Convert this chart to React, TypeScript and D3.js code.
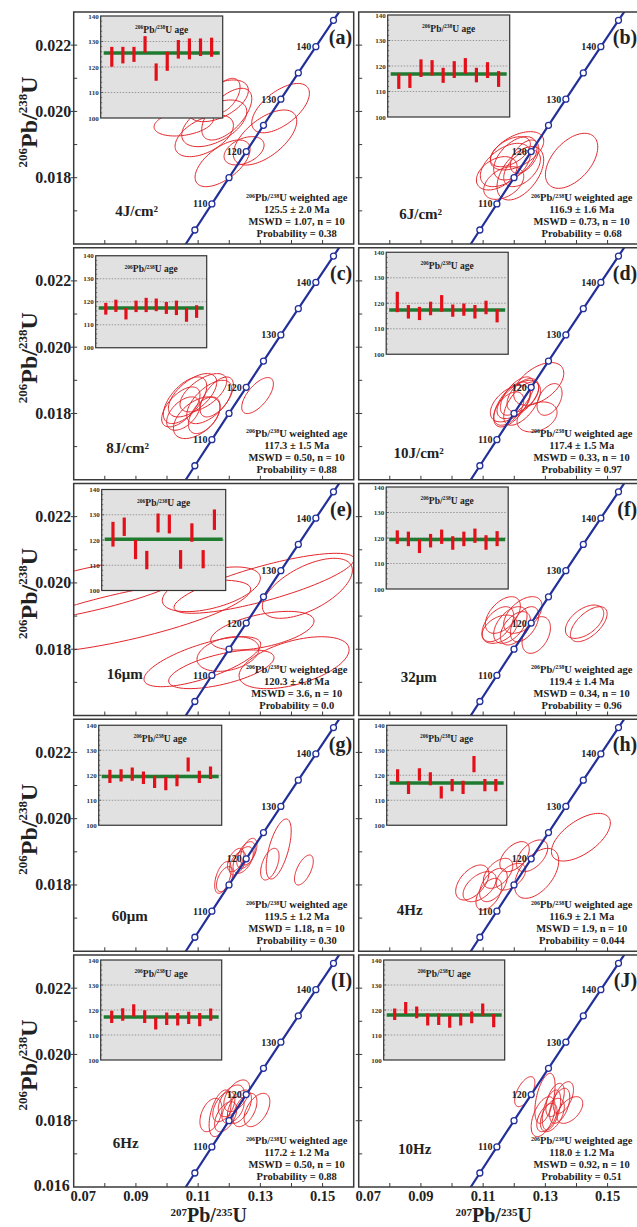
import React, { useRef, useEffect } from 'react';
import * as d3 from 'd3';

// concordia reference points: age (Ma), 207Pb/235U, 206Pb/238U
const concAges = [100, 105, 110, 115, 120, 125, 130, 135, 140, 145, 150];
const conc207 = [0.103498, 0.108945, 0.114419, 0.119921, 0.125449, 0.131005, 0.136588, 0.142198, 0.147837, 0.153503, 0.159197];
const conc206 = [0.015633, 0.016422, 0.017210, 0.018000, 0.018789, 0.019580, 0.020371, 0.021163, 0.021955, 0.022748, 0.023542];
const concLabelled = [110, 120, 130, 140];

const xTicks = [0.07, 0.09, 0.11, 0.13, 0.15];
const yTicks = ['0.022', '0.020', '0.018'];
const insetTicks = [100, 110, 120, 130, 140];

const panelIds = ['(a)', '(b)', '(c)', '(d)', '(e)', '(f)', '(g)', '(h)', '(I)', '(J)'];
const sampleNames = ['4J/cm²', '6J/cm²', '8J/cm²', '10J/cm²', '16μm', '32μm', '60μm', '4Hz', '6Hz', '10Hz'];
const meanAge = [125.5, 116.9, 117.3, 117.4, 120.3, 119.4, 119.5, 116.9, 117.2, 118.0];
const meanErr = ['2.0', '1.6', '1.5', '1.5', '4.8', '1.4', '1.2', '2.1', '1.2', '1.2'];
const mswd = ['1.07', '0.73', '0.50', '0.33', '3.6', '0.34', '1.18', '1.9', '0.50', '0.92'];
const prob = ['0.38', '0.68', '0.88', '0.97', '0.0', '0.96', '0.30', '0.044', '0.88', '0.51'];

// spot ages [age, 2σ] per panel
const agesA = [[124.0, 3.9], [124.65, 3.25], [124.95, 2.95], [128.9, 3.2], [118.0, 3.4], [122.25, 3.75], [126.95, 3.65], [127.1, 4.1], [127.75, 3.45], [127.75, 3.75]];
const agesB = [[114.0, 3.0], [114.2, 2.8], [119.15, 3.45], [119.3, 3.0], [116.35, 2.95], [118.6, 3.3], [120.05, 3.05], [116.45, 2.85], [118.4, 3.1], [114.9, 3.1]];
const agesC = [[116.95, 2.55], [118.25, 2.65], [114.8, 2.5], [118.0, 2.5], [118.6, 3.1], [118.65, 2.75], [117.3, 2.6], [117.35, 3.15], [114.3, 3.0], [115.75, 2.75]];
const agesD = [[120.5, 4.0], [116.65, 2.65], [116.0, 2.6], [117.95, 2.65], [119.95, 3.25], [117.1, 2.4], [117.5, 2.4], [116.65, 2.65], [118.35, 2.65], [115.1, 2.6]];
const agesE = [[122.3, 4.9], [125.25, 3.65], [116.2, 3.8], [112.05, 3.65], [126.75, 3.75], [126.35, 3.75], [112.3, 3.7], [122.95, 3.65], [112.4, 3.6], [128.05, 4.05]];
const agesF = [[120.35, 2.65], [119.65, 2.85], [116.75, 2.65], [118.95, 2.65], [120.5, 2.8], [118.05, 2.65], [119.65, 2.85], [120.9, 2.8], [118.25, 2.85], [119.75, 2.95]];
const agesG = [[119.55, 2.65], [119.95, 2.45], [120.45, 2.65], [119.0, 2.5], [117.35, 2.45], [116.65, 2.65], [117.9, 2.3], [124.3, 2.8], [119.35, 2.45], [121.0, 2.5]];
const agesH = [[119.85, 2.55], [115.0, 2.5], [120.3, 2.5], [118.6, 2.6], [113.15, 2.45], [116.05, 2.45], [115.15, 2.65], [124.45, 3.25], [116.05, 2.45], [116.05, 2.45]];
const agesI = [[117.25, 2.45], [118.2, 2.5], [119.85, 2.45], [117.35, 2.55], [114.6, 2.4], [116.5, 2.5], [116.3, 2.5], [116.85, 2.45], [116.15, 2.65], [118.15, 2.45]];
const agesJ = [[118.3, 2.3], [120.8, 2.4], [119.05, 2.35], [116.2, 2.4], [116.3, 2.3], [115.3, 2.4], [116.2, 2.4], [117.05, 2.35], [120.15, 2.45], [115.75, 2.65]];

// error ellipses [207Pb/235U, σ, 206Pb/238U, σ, rho]
const ellA = [[0.1365, 0.00927, 0.0201, 0.000744, 0.6], [0.1315, 0.0102, 0.019213, 0.00083, 0.6], [0.12476, 0.00643, 0.018812, 0.000427, 0.4], [0.11785, 0.00884, 0.018434, 0.000704, 0.6], [0.10537, 0.00954, 0.019651, 0.000392, 0.3], [0.11196, 0.00938, 0.019264, 0.000629, 0.5], [0.11518, 0.01045, 0.019641, 0.000704, 0.5], [0.1165, 0.00965, 0.02032, 0.000629, 0.5], [0.1192, 0.00804, 0.019917, 0.00078, 0.6], [0.11865, 0.00482, 0.020471, 0.000528, 0.5]];
const ellB = [[0.13843, 0.00841, 0.01851, 0.00083, 0.5], [0.11437, 0.00654, 0.018133, 0.000503, 0.4], [0.11714, 0.00804, 0.018384, 0.000654, 0.5], [0.1209, 0.00857, 0.018812, 0.000578, 0.5], [0.12036, 0.00697, 0.018586, 0.000654, 0.5], [0.12196, 0.0075, 0.018133, 0.000805, 0.5], [0.11662, 0.00643, 0.01784, 0.000493, 0.4], [0.12251, 0.0059, 0.018283, 0.000553, 0.5], [0.11875, 0.00643, 0.018785, 0.000453, 0.5], [0.12331, 0.00456, 0.018634, 0.000503, 0.5]];
const ellC = [[0.1291, 0.00509, 0.01854, 0.000543, 0.65], [0.10444, 0.00616, 0.018197, 0.000603, 0.6], [0.10579, 0.00697, 0.018399, 0.000704, 0.6], [0.1082, 0.00777, 0.01855, 0.000654, 0.6], [0.10955, 0.0075, 0.017871, 0.000629, 0.5], [0.11167, 0.0075, 0.018625, 0.000578, 0.6], [0.11357, 0.00723, 0.018347, 0.000654, 0.6], [0.11196, 0.00509, 0.017946, 0.000553, 0.5], [0.10524, 0.00536, 0.017997, 0.000503, 0.5], [0.11598, 0.00536, 0.018498, 0.000603, 0.6]];
const ellD = [[0.12788, 0.00804, 0.018891, 0.000644, 0.5], [0.13135, 0.00402, 0.018423, 0.000478, 0.4], [0.12733, 0.00643, 0.017895, 0.000453, 0.3], [0.11875, 0.00643, 0.018299, 0.000553, 0.5], [0.11929, 0.0059, 0.018272, 0.000679, 0.6], [0.12116, 0.0067, 0.018423, 0.000578, 0.6], [0.1209, 0.00536, 0.018525, 0.000578, 0.6], [0.12251, 0.0059, 0.018299, 0.000654, 0.6], [0.12277, 0.00509, 0.01855, 0.000503, 0.5], [0.11823, 0.00482, 0.018148, 0.000503, 0.5]];
const ellE = [[0.13119, 0.02894, 0.019989, 0.000905, 0.8], [0.11424, 0.01576, 0.019808, 0.000674, 0.5], [0.14511, 0.01447, 0.019838, 0.000905, 0.6], [0.13064, 0.01661, 0.018559, 0.000583, 0.5], [0.11961, 0.00997, 0.017856, 0.000523, 0.3], [0.11135, 0.01876, 0.017623, 0.000754, 0.7], [0.11746, 0.01693, 0.017394, 0.000583, 0.6], [0.14084, 0.01768, 0.017593, 0.000784, 0.5], [0.07437, 0.03644, 0.019787, 0.001006, 0.75], [0.08617, 0.04073, 0.018981, 0.001106, 0.75]];
const ellF = [[0.1426, 0.00616, 0.01883, 0.000503, 0.5], [0.14395, 0.0059, 0.018755, 0.000528, 0.6], [0.11473, 0.00509, 0.018755, 0.000528, 0.5], [0.11633, 0.00563, 0.019032, 0.000553, 0.5], [0.11527, 0.00563, 0.018604, 0.000427, 0.4], [0.11875, 0.00536, 0.018731, 0.000553, 0.5], [0.12277, 0.00616, 0.019032, 0.000553, 0.5], [0.12331, 0.00456, 0.018755, 0.000528, 0.5], [0.12707, 0.00456, 0.018429, 0.000553, 0.4], [0.12035, 0.00482, 0.018631, 0.000503, 0.5]];
const ellG = [[0.13589, 0.00402, 0.019085, 0.000905, 0.6], [0.13305, 0.00296, 0.018628, 0.000478, 0.5], [0.14399, 0.00302, 0.018451, 0.000453, 0.6], [0.11797, 0.00266, 0.018225, 0.000478, 0.5], [0.11855, 0.00266, 0.018175, 0.000377, 0.5], [0.12209, 0.00266, 0.018753, 0.000352, 0.5], [0.12537, 0.00296, 0.018904, 0.000402, 0.5], [0.12624, 0.00266, 0.019005, 0.000402, 0.5], [0.12447, 0.00325, 0.018753, 0.000402, 0.5], [0.1227, 0.00266, 0.018653, 0.000352, 0.5]];
const ellH = [[0.14142, 0.00947, 0.019441, 0.000719, 0.6], [0.1272, 0.0071, 0.018351, 0.000754, 0.5], [0.1201, 0.00473, 0.018853, 0.000453, 0.5], [0.1065, 0.00533, 0.018074, 0.000528, 0.5], [0.10888, 0.00533, 0.017948, 0.000453, 0.5], [0.11331, 0.00444, 0.017999, 0.000503, 0.5], [0.11183, 0.00414, 0.017721, 0.000478, 0.5], [0.11479, 0.00473, 0.018351, 0.000453, 0.5], [0.12572, 0.00503, 0.01888, 0.000478, 0.5], [0.11894, 0.00473, 0.018249, 0.000402, 0.5]];
const ellI = [[0.11412, 0.00355, 0.018172, 0.000503, 0.4], [0.11707, 0.00355, 0.018224, 0.000704, 0.5], [0.11826, 0.00355, 0.018423, 0.000453, 0.5], [0.12061, 0.00414, 0.018601, 0.000478, 0.5], [0.12241, 0.00414, 0.018752, 0.000478, 0.5], [0.12328, 0.00385, 0.018423, 0.000503, 0.5], [0.12505, 0.00385, 0.018323, 0.000503, 0.5], [0.12891, 0.00414, 0.018323, 0.000503, 0.5], [0.11884, 0.00355, 0.018121, 0.000453, 0.5], [0.12122, 0.00355, 0.018323, 0.000402, 0.5]];
const ellJ = [[0.12338, 0.00325, 0.018876, 0.000453, 0.6], [0.12929, 0.00385, 0.018121, 0.000603, 0.5], [0.12987, 0.00325, 0.018676, 0.000754, 0.5], [0.13225, 0.00385, 0.018172, 0.000503, 0.5], [0.13312, 0.00296, 0.018625, 0.000503, 0.5], [0.1346, 0.00325, 0.01845, 0.000528, 0.5], [0.13579, 0.00325, 0.0187, 0.000478, 0.5], [0.13788, 0.00414, 0.018323, 0.000402, 0.5], [0.13196, 0.00296, 0.018323, 0.000603, 0.5], [0.13048, 0.00325, 0.018097, 0.000427, 0.5]];

const allAges = [agesA, agesB, agesC, agesD, agesE, agesF, agesG, agesH, agesI, agesJ];
const allEll = [ellA, ellB, ellC, ellD, ellE, ellF, ellG, ellH, ellI, ellJ];

// layout: inset box [left, top, w, h] and sample label [x, y] inside each panel
const insetBox = [[27, 4, 122, 102], [29, 3, 122, 102], [22, 8, 111, 92], [27.5, 4.5, 122, 102], [28, 6, 124, 101], [27.5, 3.5, 122, 102], [25, 6, 123, 100], [28, 6, 120, 100], [27, 5, 121, 100], [25, 5, 121, 100]];
const labelPos = [[63, 204], [62, 207], [54, 205], [60, 210], [51, 195], [60, 198], [56, 202], [51, 196], [52, 193], [56, 199]];

const FONT = '"Liberation Serif", "Times New Roman", serif';
const RED = '#e3262b';
const BLUE = '#23309a';

// text with superscripts: parts = [text, isSup]
function richText(sel, parts, size, supSize, rise) {
    let up = false;
    parts.forEach(([s, sup]) => {
        const dy = sup && !up ? -rise : (!sup && up ? rise : 0);
        up = sup;
        sel.append('tspan').attr('font-size', sup ? supSize : size).attr('dy', dy).text(s);
    });
}

const App = () => {
    const svgRef = useRef(null);

    useEffect(() => {
        const svg = d3.select(svgRef.current);
        svg.selectAll('*').remove();

        const colLeft = [73.7, 358.7];
        const top0 = 12, rowStep = 235.75;
        const pw = 280, ph = 232;

        const x = d3.scaleLinear().domain([0.07, 0.16]).range([0, pw]);
        const y = d3.scaleLinear().domain([0.016, 0.023]).range([ph, 0]);
        const path = d3.line().x(d => x(d[0])).y(d => y(d[1]));

        svg.append('defs').append('clipPath').attr('id', 'pclip')
            .append('rect').attr('width', pw).attr('height', ph);

        const concPts = concAges.map((a, i) => [conc207[i], conc206[i], a]);

        panelIds.forEach((pid, i) => {
            const col = i % 2, row = Math.floor(i / 2);
            const g = svg.append('g')
                .attr('transform', `translate(${colLeft[col]},${top0 + row * rowStep})`);

            const plot = g.append('g').attr('clip-path', 'url(#pclip)');

            // error ellipses
            allEll[i].forEach(([cx, sx, cy, sy, r]) => {
                const pts = d3.range(0, 361, 4).map(deg => {
                    const t = deg * Math.PI / 180;
                    return [cx + sx * Math.cos(t), cy + sy * (r * Math.cos(t) + Math.sqrt(1 - r * r) * Math.sin(t))];
                });
                plot.append('path').attr('d', path(pts))
                    .attr('fill', 'none').attr('stroke', RED).attr('stroke-width', 1);
            });

            // concordia
            plot.append('path').attr('d', path(concPts))
                .attr('fill', 'none').attr('stroke', BLUE).attr('stroke-width', 2.2);
            plot.selectAll('.mk').data(concPts).join('circle')
                .attr('cx', d => x(d[0])).attr('cy', d => y(d[1])).attr('r', 3)
                .attr('fill', '#fff').attr('stroke', BLUE).attr('stroke-width', 1.3);
            plot.selectAll('.cl').data(concPts.filter(d => concLabelled.includes(d[2]))).join('text')
                .attr('x', d => x(d[0]) - 4.5).attr('y', d => y(d[1]) + 3.5)
                .attr('text-anchor', 'end').attr('font-family', FONT).attr('font-weight', 'bold')
                .attr('font-size', 10).attr('fill', '#222').text(d => d[2]);

            // frame and ticks
            g.append('rect').attr('width', pw).attr('height', ph)
                .attr('fill', 'none').attr('stroke', '#3a3a3a').attr('stroke-width', 1.5);
            g.selectAll('.xt').data(d3.range(0.08, 0.155, 0.01)).join('line')
                .attr('x1', d => x(d)).attr('x2', d => x(d)).attr('y1', ph).attr('y2', ph - 4)
                .attr('stroke', '#3a3a3a').attr('stroke-width', 1);
            g.selectAll('.yt').data(d3.range(0.017, 0.0225, 0.001)).join('line')
                .attr('x1', (d, j) => (j % 2 ? -3 : 0)).attr('x2', 3.5)
                .attr('y1', d => y(d)).attr('y2', d => y(d))
                .attr('stroke', '#3a3a3a').attr('stroke-width', 1);

            // inset of spot ages
            const [il, it, iw, ih] = insetBox[i];
            const ins = g.append('g').attr('transform', `translate(${il},${it})`);
            const ya = d3.scaleLinear().domain([100, 140]).range([ih, 0]);
            const xa = d3.scalePoint().domain(d3.range(10)).range([0, iw]).padding(1);
            ins.append('rect').attr('width', iw).attr('height', ih)
                .attr('fill', '#e1e1e1').attr('stroke', '#333').attr('stroke-width', 1.2);
            ins.selectAll('.gl').data([110, 120, 130]).join('line')
                .attr('x1', 1).attr('x2', iw - 1).attr('y1', d => ya(d)).attr('y2', d => ya(d))
                .attr('stroke', '#888').attr('stroke-width', 0.8).attr('stroke-dasharray', '1.5,1.5');
            ins.selectAll('.il').data(insetTicks).join('text')
                .attr('x', -2).attr('y', d => ya(d) + 2.5).attr('text-anchor', 'end')
                .attr('font-family', FONT).attr('font-weight', 'bold').attr('font-size', 7)
                .attr('fill', '#333').text(d => d);
            ins.selectAll('.itk').data(d3.range(102, 140, 2)).join('line')
                .attr('x1', 0).attr('x2', d => (d % 10 === 0 ? 2.5 : 1.5))
                .attr('y1', d => ya(d)).attr('y2', d => ya(d))
                .attr('stroke', '#333').attr('stroke-width', 0.6);
            const it2 = ins.append('text').attr('x', iw / 2).attr('y', 16.5).attr('text-anchor', 'middle')
                .attr('font-family', FONT).attr('font-weight', 'bold').attr('fill', '#222');
            richText(it2, [['206', true], ['Pb/', false], ['238', true], ['U age', false]], 9.5, 5.5, 3.5);
            ins.append('line').attr('x1', 3).attr('x2', iw - 3)
                .attr('y1', ya(meanAge[i])).attr('y2', ya(meanAge[i]))
                .attr('stroke', '#1e7b30').attr('stroke-width', 3.5);
            ins.selectAll('.bar').data(allAges[i]).join('line')
                .attr('x1', (d, j) => xa(j)).attr('x2', (d, j) => xa(j))
                .attr('y1', d => ya(d[0] - d[1])).attr('y2', d => ya(d[0] + d[1]))
                .attr('stroke', '#e3101a').attr('stroke-width', 3.2);

            // panel letter
            g.append('text').attr('x', pw - 1.5).attr('y', 32).attr('text-anchor', 'end')
                .attr('font-family', FONT).attr('font-weight', 'bold').attr('font-size', 20)
                .attr('fill', '#222').text(pid);

            // sample name
            g.append('text').attr('x', labelPos[i][0]).attr('y', labelPos[i][1]).attr('text-anchor', 'middle')
                .attr('font-family', FONT).attr('font-weight', 'bold').attr('font-size', 15)
                .attr('fill', '#222').text(sampleNames[i]);

            // weighted-age statistics
            const st = g.append('g').attr('font-family', FONT).attr('font-weight', 'bold')
                .attr('fill', '#222').attr('text-anchor', 'middle');
            const l1 = st.append('text').attr('x', 223).attr('y', 189);
            richText(l1, [['206', true], ['Pb/', false], ['238', true], ['U weighted age', false]], 10.5, 6, 3.5);
            const lines = [
                `${meanAge[i].toFixed(1)} ± ${meanErr[i]} Ma`,
                `MSWD = ${mswd[i]}, n = 10`,
                `Probability = ${prob[i]}`,
            ];
            lines.forEach((s, k) => {
                st.append('text').attr('x', 223).attr('y', 201 + k * 12).attr('font-size', 10.5).text(s);
            });

            // y labels on left column
            if (col === 0) {
                const labs = row === 4 ? [...yTicks, '0.016'] : yTicks;
                g.selectAll('.yl').data(labs).join('text')
                    .attr('x', d => (d === '0.016' ? -4 : -2.5)).attr('y', d => y(+d) + (d === '0.016' ? 4 : 5.5))
                    .attr('text-anchor', 'end')
                    .attr('font-family', FONT).attr('font-weight', 'bold').attr('font-size', 16)
                    .attr('fill', '#222').text(d => d);
                const yt = g.append('text')
                    .attr('transform', `translate(${37 - colLeft[0]},${110}) rotate(-90)`)
                    .attr('text-anchor', 'middle').attr('font-family', FONT).attr('font-weight', 'bold')
                    .attr('fill', '#222');
                richText(yt, [['206', true], ['Pb/', false], ['238', true], ['U', false]], 24, 13, 10);
            }

            // x labels on bottom row
            if (row === 4) {
                g.selectAll('.xl').data(xTicks).join('text')
                    .attr('x', (d, j) => x(d) + (j === 0 ? 9.5 : 0)).attr('y', ph + 13.5)
                    .attr('text-anchor', 'middle').attr('font-family', FONT).attr('font-weight', 'bold')
                    .attr('font-size', 14.5).attr('fill', '#222').text(d => d.toFixed(2));
                const xt = g.append('text').attr('x', 135).attr('y', ph + 35)
                    .attr('text-anchor', 'middle').attr('font-family', FONT).attr('font-weight', 'bold')
                    .attr('fill', '#222');
                richText(xt, [['207', true], ['Pb/', false], ['235', true], ['U', false]], 20, 11, 6.5);
            }
        });
    }, []);

    return (
        <svg ref={svgRef} width="637" height="1227"
            style={{ position: 'absolute', left: 0, top: 0, background: '#fff' }}></svg>
    );
};

export default App;
